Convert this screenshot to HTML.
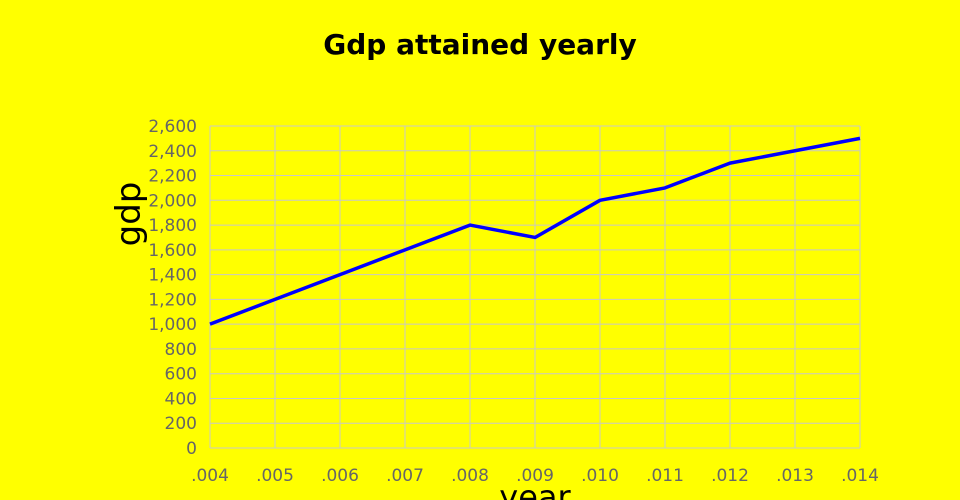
<!DOCTYPE html>
<html><head><meta charset="utf-8"><style>
html,body{margin:0;padding:0;background:#ffff00;}
svg{display:block;font-family:"DejaVu Sans","Liberation Sans",sans-serif;}
</style></head><body>
<svg id="chart" width="960" height="500">
<rect width="960" height="500" fill="#ffff00"/>
<text x="480" y="54" text-anchor="middle" font-size="28" font-weight="bold" fill="#000">Gdp attained yearly</text>
<g id="grid"></g><g id="ticks"></g><g id="series"></g>
<text transform="translate(140,214) rotate(-90)" text-anchor="middle" font-size="34" fill="#000">gdp</text>
<text x="535" y="508" text-anchor="middle" font-size="32" fill="#000">year</text>
</svg>
<script>
const categories=['.004','.005','.006','.007','.008','.009','.010','.011','.012','.013','.014'];
const gdpValues=[1000,1200,1400,1600,1800,1700,2000,2100,2300,2400,2500];
const yTicks=[0,200,400,600,800,1000,1200,1400,1600,1800,2000,2200,2400,2600];
const L=210,R=860,T=126,B=448,YMAX=2600;
const NS='http://www.w3.org/2000/svg';
function x(i){return L+i*(R-L)/(categories.length-1);}
function y(v){return B-v/YMAX*(B-T);}
function mk(tag,attrs,parent){const e=document.createElementNS(NS,tag);for(const k in attrs)e.setAttribute(k,attrs[k]);document.getElementById(parent).appendChild(e);return e;}
yTicks.forEach(v=>{
 const g=mk('line',{x1:L,x2:R,y1:y(v),y2:y(v),stroke:'#c8c8c8','stroke-width':1},'grid');
 
 
 const t=mk('text',{x:L-13,y:y(v)+6,'text-anchor':'end','font-size':17,fill:'#666'},'ticks');
 t.textContent=v.toLocaleString('en-US');
 
 
});
categories.forEach((c,i)=>{
 const g=mk('line',{x1:x(i),x2:x(i),y1:T,y2:B,stroke:'#c8c8c8','stroke-width':1},'grid');
 
 
 const t=mk('text',{x:x(i),y:481,'text-anchor':'middle','font-size':17,fill:'#666'},'ticks');
 t.textContent=c;
 
 
});
const p=mk('polyline',{points:gdpValues.map((v,i)=>x(i)+','+y(v)).join(' '),fill:'none',stroke:'#0000ff','stroke-width':3.5,'stroke-linejoin':'round'},'series');


</script>
</body></html>
